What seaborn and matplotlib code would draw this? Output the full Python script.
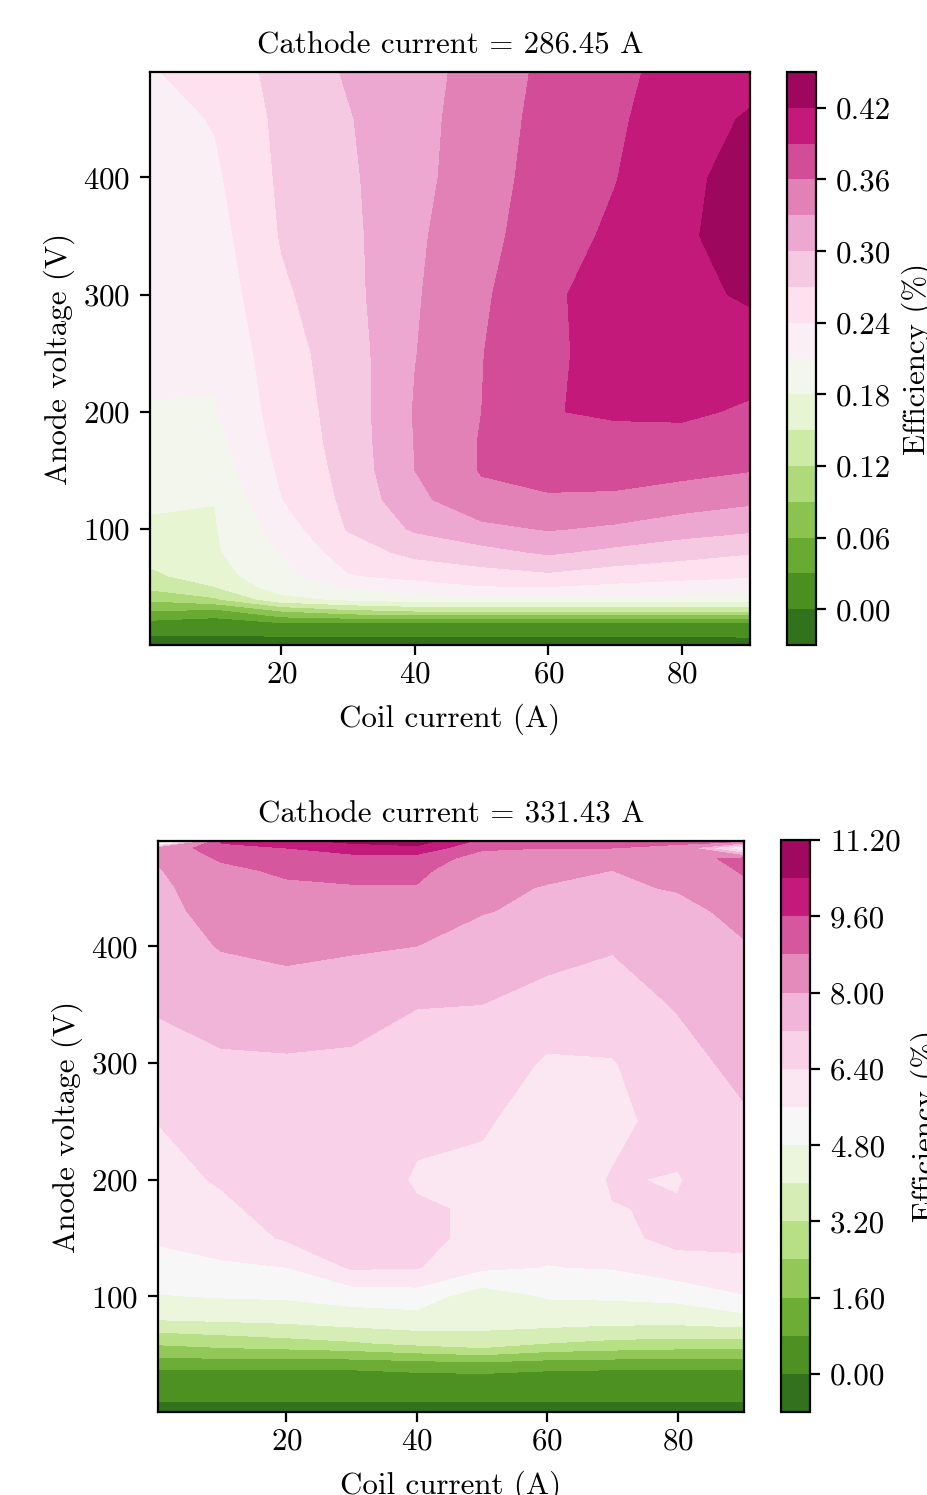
import numpy as np
import matplotlib
matplotlib.use("Agg")
import matplotlib.pyplot as plt
import seaborn as sns

# coil current (A) and anode voltage (V) grid
coil_current = [0.3, 10, 20, 30, 40, 50, 60, 70, 80, 90.2]
voltage_top = [1, 10, 20, 30, 40, 50, 60, 80, 100, 125, 150, 175, 200,
               250, 300, 350, 400, 450, 490]
voltage_bot = [1, 10, 20, 30, 40, 50, 60, 80, 100, 125, 150, 175, 200,
               250, 300, 350, 400, 430, 450, 465, 475, 484, 490]

# efficiency, cathode current = 286.45 A (one row per anode voltage)
eff_top = [
    [-0.02, -0.02, -0.02, -0.015, -0.015, -0.015, -0.015, -0.015, -0.015, -0.015],
    [0.002, 0.002, 0.004, 0.004, 0.004, 0.004, 0.004, 0.004, 0.004, 0.005],
    [0.022, 0.015, 0.03, 0.028, 0.028, 0.028, 0.028, 0.028, 0.028, 0.03],
    [0.06, 0.05, 0.09, 0.11, 0.12, 0.12, 0.12, 0.12, 0.12, 0.12],
    [0.095, 0.115, 0.17, 0.185, 0.195, 0.195, 0.195, 0.195, 0.195, 0.195],
    [0.126, 0.148, 0.195, 0.212, 0.225, 0.237, 0.238, 0.232, 0.228, 0.226],
    [0.143, 0.168, 0.2, 0.238, 0.248, 0.257, 0.264, 0.253, 0.247, 0.242],
    [0.162, 0.176, 0.212, 0.255, 0.278, 0.29, 0.304, 0.292, 0.282, 0.272],
    [0.175, 0.178, 0.224, 0.272, 0.304, 0.322, 0.332, 0.325, 0.313, 0.305],
    [0.185, 0.1805, 0.239, 0.277, 0.322, 0.352, 0.356, 0.354, 0.345, 0.336],
    [0.195, 0.193, 0.245, 0.28, 0.33, 0.362, 0.372, 0.373, 0.368, 0.361],
    [0.203, 0.2, 0.25, 0.282, 0.331, 0.362, 0.383, 0.383, 0.381, 0.375],
    [0.2095, 0.208, 0.253, 0.283, 0.332, 0.36, 0.389, 0.393, 0.395, 0.386],
    [0.212, 0.215, 0.258, 0.285, 0.329, 0.359, 0.385, 0.40, 0.408, 0.405],
    [0.215, 0.222, 0.265, 0.29, 0.327, 0.355, 0.386, 0.40, 0.412, 0.424],
    [0.218, 0.228, 0.272, 0.292, 0.325, 0.35, 0.378, 0.395, 0.413, 0.44],
    [0.222, 0.235, 0.275, 0.295, 0.322, 0.345, 0.375, 0.389, 0.412, 0.433],
    [0.228, 0.242, 0.277, 0.298, 0.321, 0.343, 0.371, 0.385, 0.408, 0.423],
    [0.238, 0.25, 0.28, 0.303, 0.32, 0.34, 0.368, 0.38, 0.405, 0.41],
]

# efficiency, cathode current = 331.43 A
eff_bot = [
    [-0.6, -0.6, -0.6, -0.6, -0.6, -0.6, -0.6, -0.6, -0.6, -0.6],
    [0.0, 0.0, 0.0, 0.02, 0.02, 0.02, 0.02, 0.02, 0.02, 0.02],
    [0.25, 0.28, 0.3, 0.3, 0.3, 0.3, 0.3, 0.3, 0.3, 0.3],
    [0.55, 0.55, 0.55, 0.55, 0.6, 0.6, 0.55, 0.55, 0.55, 0.55],
    [0.9, 0.9, 0.9, 0.9, 1.0, 1.1, 0.95, 0.9, 0.9, 0.9],
    [1.8, 1.9, 1.9, 2.0, 2.2, 2.4, 2.1, 2.0, 1.9, 1.9],
    [2.5, 2.7, 2.9, 3.1, 3.4, 3.7, 3.2, 3.0, 2.9, 2.9],
    [4.0, 4.1, 4.2, 4.4, 4.5, 4.25, 4.4, 4.3, 4.3, 4.5],
    [4.75, 4.85, 4.9, 5.1, 5.2, 4.35, 4.85, 4.9, 5.0, 5.55],
    [5.3, 5.5, 5.6, 6.5, 6.45, 5.75, 5.58, 5.65, 6.1, 6.2],
    [5.7, 5.9, 6.5, 6.8, 6.7, 6.1, 5.8, 6.2, 6.6, 6.6],
    [5.9, 6.2, 6.8, 6.9, 6.5, 6.3, 5.9, 6.38, 6.45, 6.8],
    [6.05, 6.5, 6.9, 7.0, 6.3, 6.2, 5.9, 6.45, 6.35, 6.95],
    [6.42, 6.8, 7.0, 7.05, 6.6, 6.5, 6.0, 6.2, 6.7, 7.1],
    [6.85, 7.1, 7.12, 7.1, 6.95, 6.9, 6.3, 6.35, 6.95, 7.4],
    [7.3, 7.5, 7.6, 7.45, 7.22, 7.2, 6.9, 6.9, 7.25, 7.65],
    [7.6, 8.05, 8.2, 8.1, 8.0, 7.6, 7.5, 7.25, 7.5, 7.95],
    [7.75, 8.3, 8.5, 8.5, 8.45, 8.05, 7.8, 7.5, 7.8, 8.2],
    [7.85, 8.4, 8.65, 8.75, 8.75, 8.2, 7.95, 7.9, 8.05, 8.6],
    [7.95, 8.6, 8.95, 9.0, 9.0, 8.2, 8.2, 8.0, 8.1, 8.9],
    [8.1, 8.9, 9.2, 9.3, 9.2, 8.5, 8.4, 8.4, 8.5, 9.0],
    [8.3, 9.2, 9.6, 10.0, 10.2, 8.9, 8.8, 8.8, 8.7, 5.4],
    [2.0, 9.8, 10.2, 10.6, 10.8, 9.4, 9.2, 9.0, 8.9, 9.0],
]

titles = ["Cathode current = 286.45 A", "Cathode current = 331.43 A"]
levels_top = np.arange(-0.03, 0.4501, 0.03)
levels_bot = np.arange(-0.8, 11.201, 0.8)

sns.set_style("ticks")
plt.rcParams["font.family"] = "serif"
plt.rcParams["font.serif"] = ["cmr10"]
plt.rcParams["mathtext.fontset"] = "cm"
plt.rcParams["axes.formatter.use_mathtext"] = True
plt.rcParams["font.size"] = 22.3
plt.rcParams["axes.titlesize"] = 22.3
plt.rcParams["axes.labelsize"] = 22.3
plt.rcParams["text.color"] = "black"
plt.rcParams["axes.labelcolor"] = "black"
plt.rcParams["axes.edgecolor"] = "black"
plt.rcParams["axes.linewidth"] = 1.6
plt.rcParams["xtick.color"] = "black"
plt.rcParams["ytick.color"] = "black"
for a in ("xtick", "ytick"):
    plt.rcParams[a + ".major.size"] = 7.5
    plt.rcParams[a + ".major.width"] = 1.6
    plt.rcParams[a + ".labelsize"] = 22.3
plt.rcParams["xtick.major.pad"] = 3.5
plt.rcParams["ytick.major.pad"] = 7.0

cmap = sns.color_palette("PiYG_r", as_cmap=True)

W, H = 928, 1495
fig = plt.figure(figsize=(W / 100, H / 100), dpi=100)

panels = [
    (eff_top, voltage_top, levels_top, titles[0],
     [150, 72, 750, 645], [787, 72, 816, 645]),
    (eff_bot, voltage_bot, levels_bot, titles[1],
     [158, 841, 744, 1412], [781, 840, 810, 1412]),
]

for z, volts, levels, title, abox, cbox in panels:
    ax = fig.add_axes([abox[0] / W, 1 - abox[3] / H,
                       (abox[2] - abox[0]) / W, (abox[3] - abox[1]) / H])
    cax = fig.add_axes([cbox[0] / W, 1 - cbox[3] / H,
                        (cbox[2] - cbox[0]) / W, (cbox[3] - cbox[1]) / H])
    X, Y = np.meshgrid(coil_current, volts)
    cs = ax.contourf(X, Y, np.array(z), levels=levels, cmap=cmap)
    ax.set_xticks([20, 40, 60, 80])
    ax.set_yticks([100, 200, 300, 400])
    ax.set_xlabel("Coil current (A)", labelpad=11)
    ax.set_ylabel("Anode voltage (V)", labelpad=5.5)
    ax.set_title(title, pad=13)
    cb = fig.colorbar(cs, cax=cax, ticks=levels[1::2], format="%.2f")
    cb.outline.set_linewidth(1.6)
    cb.outline.set_edgecolor("black")
    cb.set_label("Efficiency (%)", labelpad=7)

fig.savefig("out.png", dpi=100)
